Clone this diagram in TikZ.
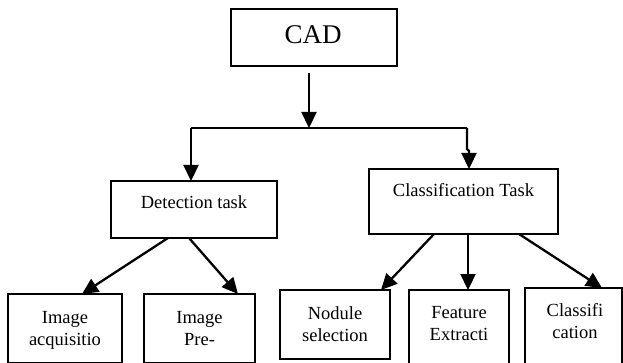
\documentclass[tikz,border=0pt]{standalone}
\usepackage{fontspec}
\setmainfont{Liberation Serif}
\usetikzlibrary{arrows.meta,calc}
\begin{document}
\begin{tikzpicture}[x=1pt,y=-1pt,
  box/.style={draw=black,line width=1.2pt,rectangle,inner sep=0pt,outer sep=0pt},
  txt/.style={inner sep=0pt,outer sep=0pt,align=center,font=\fontsize{18.5}{22}\selectfont},
  arr/.style={line width=2.3pt,-{Triangle[length=16pt,width=15pt]}},
  thin/.style={line width=1.3pt}]
\useasboundingbox (0,0) rectangle (623,363);
% boxes
\node[box,minimum width=166pt,minimum height=57pt] (cad) at (314,37.5) {};
\node[box,minimum width=166pt,minimum height=57pt] (det) at (194,209.5) {};
\node[box,minimum width=189pt,minimum height=65pt] (cls) at (463.5,201.5) {};
\node[box,minimum width=114pt,minimum height=69pt] (acq) at (65,328.5) {};
\node[box,minimum width=111pt,minimum height=69pt] (pre) at (199.5,328.5) {};
\node[box,minimum width=110pt,minimum height=69pt] (nod) at (335,324.5) {};
\node[box,minimum width=100pt,minimum height=90pt] (fea) at (459,335) {};
\node[box,minimum width=97pt,minimum height=92pt] (clf) at (573.5,334) {};
% texts
\node[txt,anchor=base,font=\fontsize{27}{30}\selectfont] (cadt) at (313,44) {CAD};
\node[txt,anchor=base] (dett) at (194,208.3) {Detection task};
\node[txt,anchor=base] (clst) at (463.5,196.7) {Classification Task};
\node[txt,anchor=base] (acqt) at (65,345) {Image\\acquisitio};
\node[txt,anchor=base] (pret) at (199.5,345) {Image\\Pre-};
\node[txt,anchor=base] (nodt) at (335,341) {Nodule\\selection};
\node[txt,anchor=base] (feat) at (459,340.5) {Feature\\Extracti};
\node[txt,anchor=base] (clft) at (575,338.3) {Classifi\\cation};
% junction
\coordinate (jm) at (309,128);
\coordinate (jl) at (191,128);
\coordinate (jr) at (467,128);
\draw[thin] (jl) -- (jr);
\draw[arr] ($(cad.south)+(-5,7)$) -- (jm);
\draw[arr] (jl) -- ($(det.north)+(-3,0)$);
\draw[arr,line join=miter] (jr) -- ++(0,21) -- ++(2,2) -- ($(cls.north)+(5.5,0)$);
% lower arrows
\draw[arr] ($(det.south)+(-26,0)$) -- ($(acq.north)+(17,0)$);
\draw[arr] ($(det.south)+(-5,0)$) -- ($(pre.north)+(38.5,0)$);
\draw[arr] ($(cls.south)+(-29.5,0)$) -- ($(nod.north)+(46,0)$);
\draw[arr] ($(cls.south)+(4.5,0)$) -- ($(fea.north)+(9,0)$);
\draw[arr] ($(cls.south)+(55.5,0)$) -- ($(clf.north)+(28.5,0)$);
\end{tikzpicture}
\end{document}
